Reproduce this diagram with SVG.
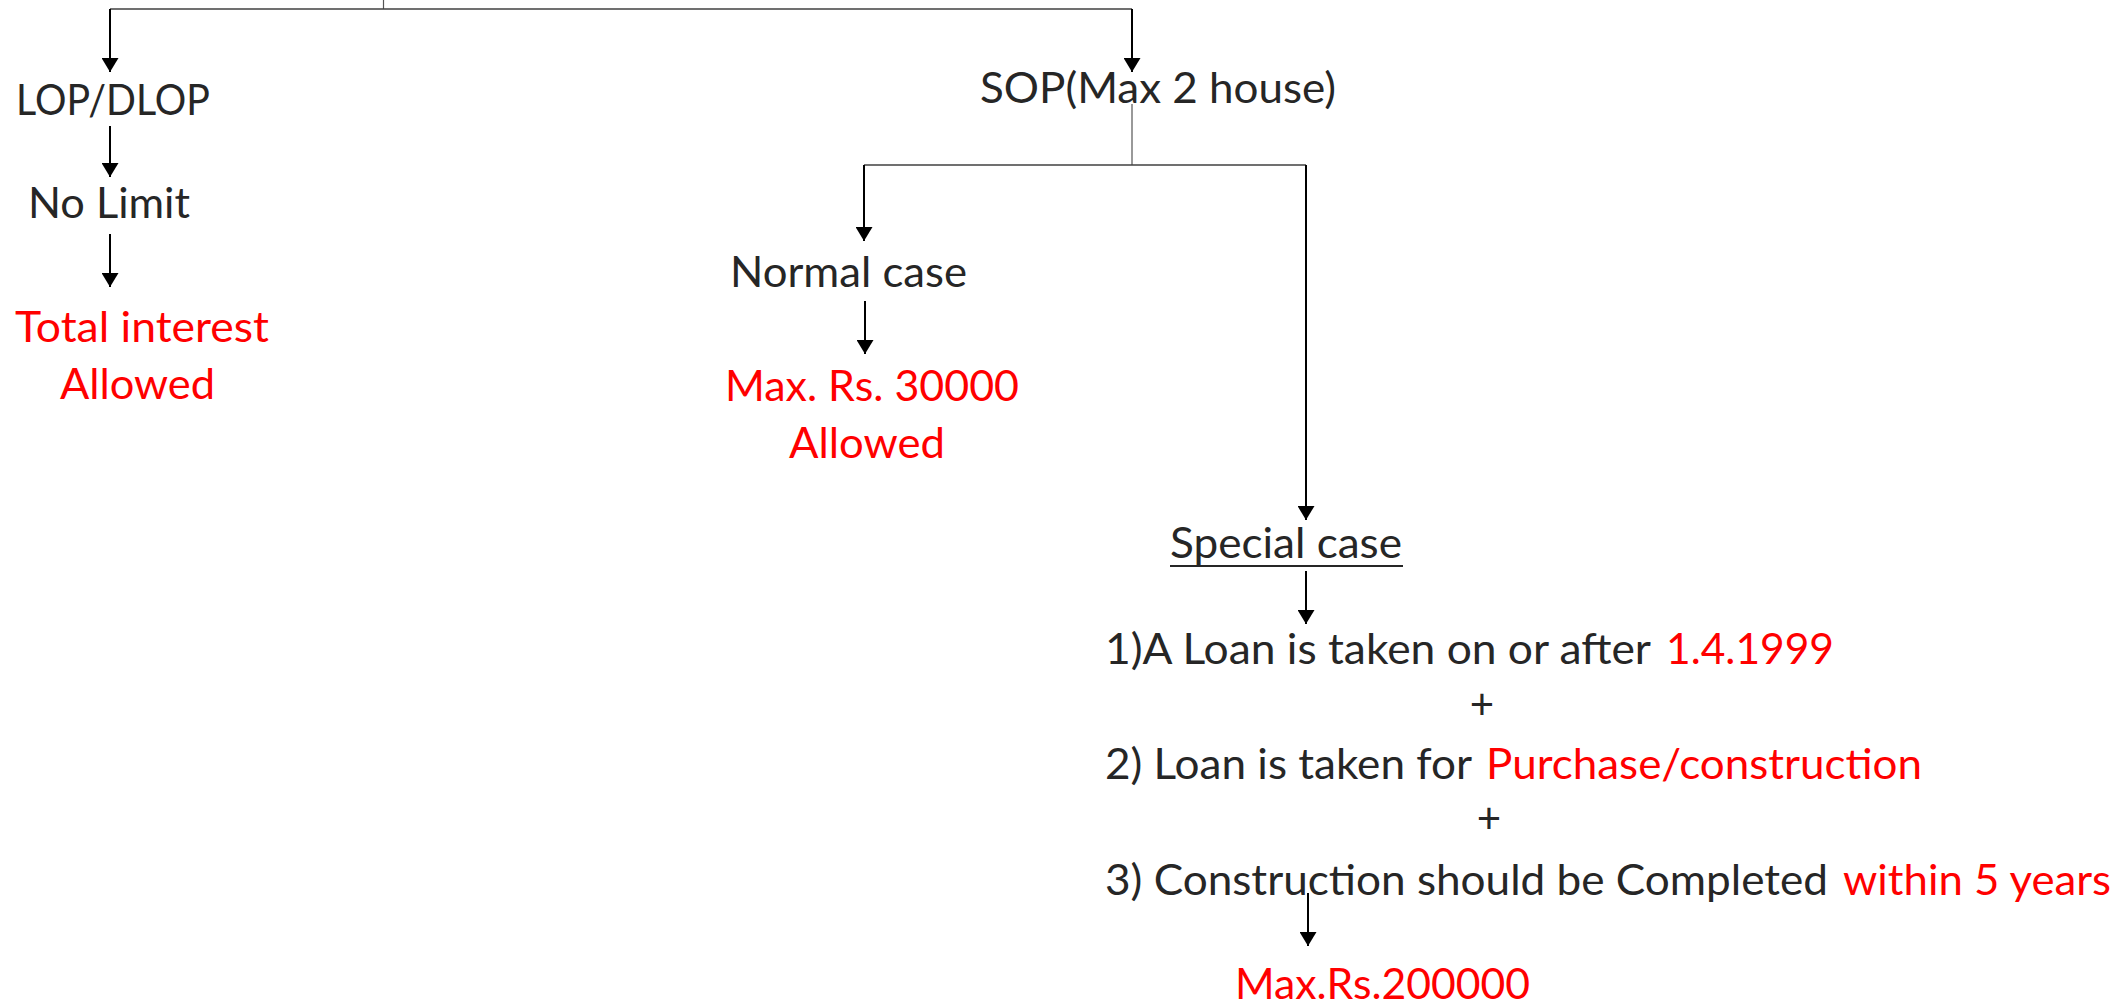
<svg xmlns="http://www.w3.org/2000/svg" width="2126" height="1006" viewBox="0 0 2126 1006">
<style>
.t{font-family:Lato,"Open Sans","Liberation Sans",sans-serif;font-size:42px;fill:#262626}
.r{fill:#ff0000}
.a{stroke:#000;stroke-width:2;fill:none;marker-end:url(#ah)}
.g{stroke:#404040;stroke-width:1.6;fill:none}
.th{stroke:#555;stroke-width:1.2;fill:none}
</style>
<defs>
<marker id="ah" viewBox="0 0 14 17" refX="14" refY="8.5" markerWidth="14" markerHeight="17" markerUnits="userSpaceOnUse" orient="auto">
<path d="M0,0 L14,8.5 L0,17 z" fill="#000"/>
</marker>
</defs>
<rect width="2126" height="1006" fill="#fff"/>
<g id="connectors">
<path class="th" d="M383.5,0 V9"/>
<path class="g" d="M110,9 H1132"/>
<path class="a" d="M110,9 V72"/>
<path class="a" d="M1132,9 V72"/>
<path class="a" d="M110,126 V177"/>
<path class="a" d="M110,234 V287"/>
<path class="th" d="M1132,104 V165"/>
<path class="g" d="M864,165 H1306"/>
<path class="a" d="M864,165 V241"/>
<path class="a" d="M1306,165 V520"/>
<path class="a" d="M865,301 V354"/>
<path class="a" d="M1306,571 V624"/>
<path class="a" d="M1308,893 V946"/>
</g>
<g id="lop"><text class="t" x="16" y="115" textLength="194" lengthAdjust="spacingAndGlyphs">LOP/DLOP</text></g>
<g id="nolimit"><text class="t" x="28" y="218" textLength="162" lengthAdjust="spacingAndGlyphs">No Limit</text></g>
<g id="total">
<text class="t r" x="15" y="342" textLength="254" lengthAdjust="spacingAndGlyphs">Total interest</text>
<text class="t r" x="60" y="399" textLength="155" lengthAdjust="spacingAndGlyphs">Allowed</text>
</g>
<g id="sop"><text class="t" x="980" y="103" textLength="356" lengthAdjust="spacingAndGlyphs">SOP(Max 2 house)</text></g>
<g id="normal"><text class="t" x="730" y="287" textLength="237" lengthAdjust="spacingAndGlyphs">Normal case</text></g>
<g id="max30000">
<text class="t r" x="725" y="401" textLength="294" lengthAdjust="spacingAndGlyphs">Max. Rs. 30000</text>
<text class="t r" x="789" y="458" textLength="156" lengthAdjust="spacingAndGlyphs">Allowed</text>
</g>
<g id="special">
<text class="t" x="1170" y="558" textLength="232" lengthAdjust="spacingAndGlyphs">Special case</text>
<line x1="1170" y1="566" x2="1403" y2="566" stroke="#262626" stroke-width="2"/>
</g>
<g id="conditions">
<text class="t" x="1105" y="664" textLength="546" lengthAdjust="spacingAndGlyphs">1)A Loan is taken on or after</text>
<text class="t r" x="1666" y="664" textLength="168" lengthAdjust="spacingAndGlyphs">1.4.1999</text>
<text class="t" x="1482" y="719" text-anchor="middle">+</text>
<text class="t" x="1105" y="779" textLength="367" lengthAdjust="spacingAndGlyphs">2) Loan is taken for</text>
<text class="t r" x="1486" y="779" textLength="436" lengthAdjust="spacingAndGlyphs">Purchase/construction</text>
<text class="t" x="1489" y="833" text-anchor="middle">+</text>
<text class="t" x="1105" y="895" textLength="723" lengthAdjust="spacingAndGlyphs">3) Construction should be Completed</text>
<text class="t r" x="1843" y="895" textLength="268" lengthAdjust="spacingAndGlyphs">within 5 years</text>
</g>
<g id="max200000"><text class="t r" x="1235" y="999" textLength="295" lengthAdjust="spacingAndGlyphs">Max.Rs.200000</text></g>
</svg>
